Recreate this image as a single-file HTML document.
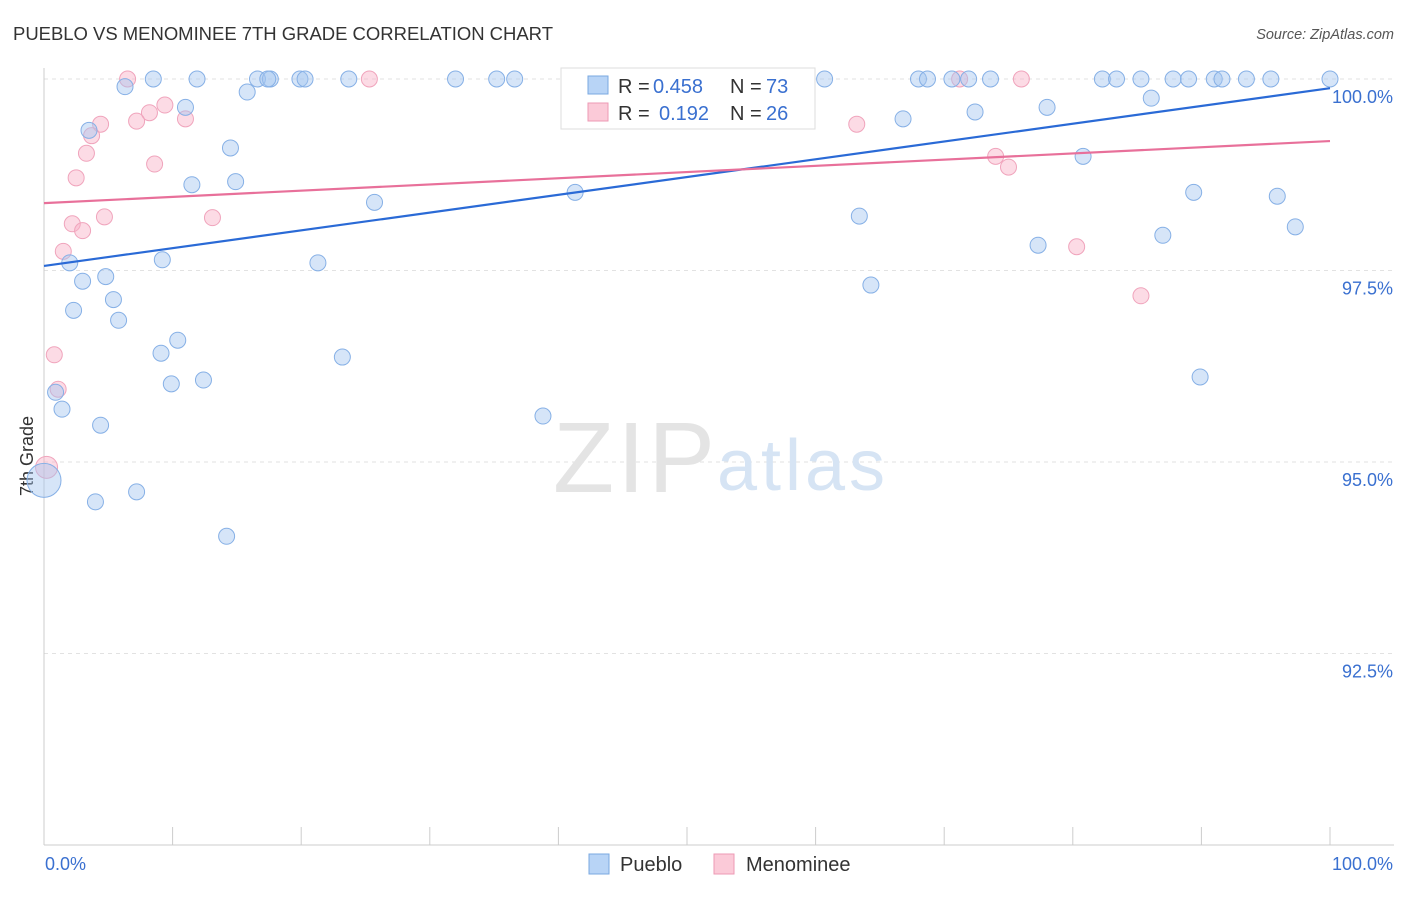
<!DOCTYPE html>
<html><head><meta charset="utf-8"><style>
body{margin:0;background:#fff;font-family:"Liberation Sans",sans-serif;}
svg text{font-family:"Liberation Sans",sans-serif;}
</style></head><body>
<svg id="c" width="1406" height="892" xmlns="http://www.w3.org/2000/svg">
<text x="13" y="40" font-size="18.5" fill="#333" textLength="540">PUEBLO VS MENOMINEE 7TH GRADE CORRELATION CHART</text>
<text x="1394" y="39" font-size="14.5" fill="#555" text-anchor="end" font-style="italic">Source: ZipAtlas.com</text>
<text x="33" y="456" font-size="18" fill="#333" text-anchor="middle" transform="rotate(-90 33 456)">7th Grade</text>
<g id="grid"></g>
<text x="553" y="492" font-size="100" fill="#e4e4e4" font-family="Liberation Serif" textLength="162">ZIP</text>
<text x="717" y="490" font-size="72" fill="#d6e4f4" textLength="168">atlas</text>
<g id="pts"></g>
<g id="lines"></g>
<g>
<rect x="561" y="68" width="254" height="61" fill="#fff" stroke="#ddd"/>
<rect x="588" y="76" width="20" height="18" fill="#b8d4f6" stroke="#7aa8e0"/>
<rect x="588" y="103" width="20" height="18" fill="#fbcad8" stroke="#ee9ab4"/>
<text x="618" y="93" font-size="20" fill="#333">R = <tspan x="653" fill="#3a70d0">0.458</tspan></text>
<text x="730" y="93" font-size="20" fill="#333">N = <tspan x="766" fill="#3a70d0">73</tspan></text>
<text x="618" y="120" font-size="20" fill="#333">R = <tspan x="659" fill="#3a70d0">0.192</tspan></text>
<text x="730" y="120" font-size="20" fill="#333">N = <tspan x="766" fill="#3a70d0">26</tspan></text>
</g>
<g>
<rect x="589" y="854" width="20" height="20" fill="#b8d4f6" stroke="#7aa8e0"/>
<text x="620" y="871" font-size="20" fill="#333">Pueblo</text>
<rect x="714" y="854" width="20" height="20" fill="#fbcad8" stroke="#ee9ab4"/>
<text x="746" y="871" font-size="20" fill="#333">Menominee</text>
</g>
</svg>
<script>
const yTicks=[100,97.5,95,92.5];
const yTickLabels=["100.0%","97.5%","95.0%","92.5%"];
const xEndLabels=["0.0%","100.0%"];
const puebloX=[6.3,8.5,11.9,15.8,16.6,17.6,17.4,19.9,20.3,23.7,32.0,35.2,36.6,42.3,47.0,60.7,68.0,68.7,70.6,71.9,73.6,82.3,83.4,85.3,87.8,89.0,91.0,91.6,93.5,95.4,100,86.1,78.0,72.4,66.8,11.0,3.5,14.5,80.8,11.5,14.9,41.3,89.4,95.9,25.7,63.4,97.3,87.0,77.3,2.0,9.2,21.3,3.0,4.8,5.4,64.3,2.3,5.8,10.4,9.1,23.2,9.9,12.4,89.9,0.9,1.4,38.8,4.4,0,7.2,4.0,14.2];
const puebloY=[99.9,100,100,99.83,100,100,100,100,100,100,100,100,100,100,100,100,100,100,100,100,100,100,100,100,100,100,100,100,100,100,100,99.75,99.63,99.57,99.48,99.63,99.33,99.10,98.99,98.62,98.66,98.52,98.52,98.47,98.39,98.21,98.07,97.96,97.83,97.60,97.64,97.60,97.36,97.42,97.12,97.31,96.98,96.85,96.59,96.42,96.37,96.02,96.07,96.11,95.91,95.69,95.60,95.48,94.76,94.61,94.48,94.03];
const menX=[6.5,25.3,71.2,76.0,9.4,8.2,7.2,4.4,11.0,3.7,3.3,8.6,2.5,63.2,74.0,75.0,2.2,4.7,3.0,13.1,1.5,80.3,85.3,0.8,1.1,0.2];
const menY=[100,100,100,100,99.66,99.56,99.45,99.41,99.48,99.26,99.03,98.89,98.71,99.41,98.99,98.85,98.11,98.20,98.02,98.19,97.75,97.81,97.17,96.40,95.95,94.93];
const puebloTrend=[97.56,99.88];
const menTrend=[98.38,99.19];
const NS="http://www.w3.org/2000/svg";
const X=v=>44+v*12.86, Y=v=>79+(100-v)*76.6;
function mk(t,a,p){const e=document.createElementNS(NS,t);for(const k in a)e.setAttribute(k,a[k]);p.appendChild(e);return e;}
const g=document.getElementById('grid');
yTicks.forEach((t,i)=>{
 const l=mk('line',{x1:44,x2:1394,y1:Y(t),y2:Y(t),stroke:'#e2e2e2','stroke-dasharray':'4,4'},g);
 
 
 const tx=mk('text',{x:1393,y:Y(t)+24,'font-size':18,fill:'#3a70d0','text-anchor':'end'},g);
 tx.textContent=yTickLabels[i];
 
 
});
const ax=mk('line',{x1:44,x2:1394,y1:845,y2:845,stroke:'#ccc'},g);


const ay=mk('line',{x1:44,x2:44,y1:68,y2:845,stroke:'#ccc'},g);


for(let i=0;i<=10;i++){const t=mk('line',{x1:X(i*10),x2:X(i*10),y1:827,y2:845,stroke:'#ccc'},g);
 
 }
[[0,'start',45],[100,'end',1393]].forEach((d,i)=>{const t=mk('text',{x:d[2],y:870,'font-size':18,fill:'#3a70d0','text-anchor':d[1]},g);t.textContent=xEndLabels[i];
 
 });
const p=document.getElementById('pts');
menX.forEach((x,i)=>{const c=mk('circle',{cx:X(x),cy:Y(menY[i]),r:i==menX.length-1?11:8,fill:'rgba(248,176,198,0.45)',stroke:'#f0a4bc','stroke-width':1},p);
 
 });
puebloX.forEach((x,i)=>{const c=mk('circle',{cx:X(x),cy:Y(puebloY[i]),r:i==68?17:8,fill:'rgba(164,198,240,0.45)',stroke:'#86b0e6','stroke-width':1},p);
 
 });
const L=document.getElementById('lines');
const l1=mk('line',{x1:X(0),y1:Y(puebloTrend[0]),x2:X(100),y2:Y(puebloTrend[1]),stroke:'#2a6ad6','stroke-width':2.2},L);


const l2=mk('line',{x1:X(0),y1:Y(menTrend[0]),x2:X(100),y2:Y(menTrend[1]),stroke:'#e8709a','stroke-width':2.2},L);


</script>
</body></html>
